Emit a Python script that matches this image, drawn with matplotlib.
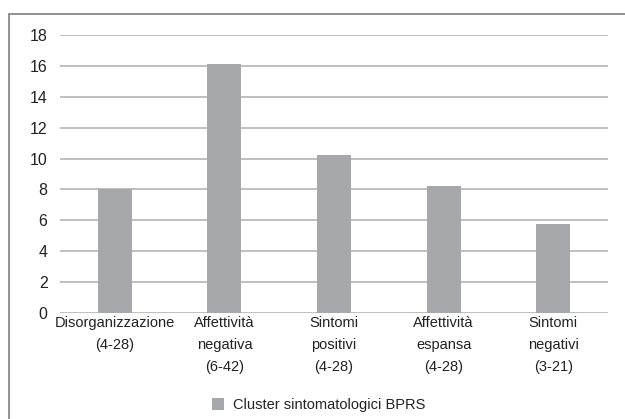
import matplotlib
matplotlib.use("Agg")
from matplotlib import pyplot as plt
from matplotlib.patches import Rectangle

# Data
categories = ["Disorganizzazione\n(4-28)", "Affettività\nnegativa\n(6-42)",
              "Sintomi\npositivi\n(4-28)", "Affettività\nespansa\n(4-28)",
              "Sintomi\nnegativi\n(3-21)"]
values = [8.0, 16.1, 10.2, 8.2, 5.75]
yticks = [0, 2, 4, 6, 8, 10, 12, 14, 16, 18]
series_name = "Cluster sintomatologici BPRS"

plt.rcParams['font.family'] = ['Liberation Sans', 'DejaVu Sans']

fig = plt.figure(figsize=(6.25, 4.19), dpi=100)
ax = fig.add_axes([0.096, 0.253, 0.877, 0.6635])

bar_color = '#a7a8ab'
grid_color = '#b4b4b4'

x = range(len(categories))
ax.bar(x, values, width=0.31, color=bar_color, zorder=3, label=series_name)

ax.set_ylim(0, 18)
ax.set_xlim(-0.5, len(categories) - 0.5)
ax.set_yticks(yticks)
ax.set_xticks(list(x))
ax.set_xticklabels(categories, fontsize=10.5, color='#222222', linespacing=1.75)
ax.tick_params(axis='y', labelsize=11.5, colors='#222222', length=0, pad=9)
ax.tick_params(axis='x', length=0, pad=2)
ax.yaxis.grid(True, color=grid_color, linewidth=1.2, zorder=0)
for s in ax.spines.values():
    s.set_visible(False)

# outer frame (runs off the right and bottom of the image)
fig.patches.append(Rectangle((9 / 625, -0.1), 1.2, 0.1 + (1 - 14 / 419),
                             transform=fig.transFigure, fill=False,
                             edgecolor='#7f7f7f', linewidth=1.2))

fig.legend(loc='center', bbox_to_anchor=(0.51, 1 - 405 / 419), frameon=False,
           fontsize=10.5, handlelength=0.8, handleheight=0.8, handletextpad=0.6,
           labelcolor='#222222')

fig.savefig("out.png", dpi=100)
